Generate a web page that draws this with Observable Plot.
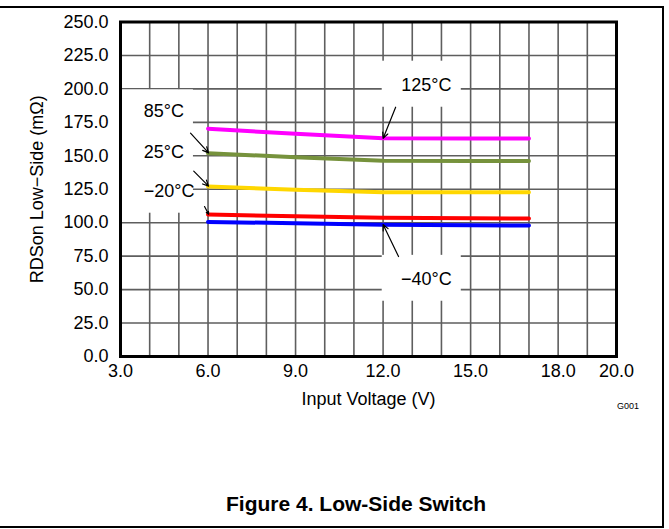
<!DOCTYPE html>
<html>
<head>
<meta charset="utf-8">
<script src="https://cdn.jsdelivr.net/npm/d3@7"></script>
<script src="https://cdn.jsdelivr.net/npm/@observablehq/plot@0.6"></script>
<style>
  html, body { margin: 0; padding: 0; background: #fff; }
  #wrap { position: relative; width: 669px; height: 529px; overflow: hidden; font-family: "Liberation Sans", Arial, sans-serif; }
  #outer { position: absolute; left: -4px; top: 6px; width: 668px; height: 522px; box-sizing: border-box; border-top: 2px solid #000; border-right: 2px solid #000; border-bottom: 2px solid #000; z-index: 5; pointer-events: none; }
  #chart { position: absolute; left: 0; top: 0; z-index: 1; }
  #gcode { position: absolute; left: 617px; top: 402px; font-size: 9px; line-height: 9px; white-space: nowrap; z-index: 2; }
  #caption { position: absolute; left: 226px; top: 493px; font-size: 21px; line-height: 21px; font-weight: bold; white-space: nowrap; z-index: 2; }
</style>
</head>
<body>
<div id="wrap">
  <div id="chart"></div>
  <div id="gcode">G001</div>
  <div id="caption">Figure 4. Low-Side Switch</div>
  <div id="outer"></div>
</div>
<script>
// ---- data ----
const voltage = [6, 9, 12, 15, 17];
const rds125 = [170.2, 166.4, 163.2, 163.0, 163.0];
const rds85  = [151.9, 149.0, 146.3, 146.2, 146.2];
const rds25  = [127.1, 124.6, 122.8, 122.7, 122.7];
const rdsM20 = [106.1, 104.9, 103.7, 103.3, 103.1];
const rdsM40 = [100.6, 99.6, 98.4, 98.1, 97.9];
const seriesNames  = ["125°C", "85°C", "25°C", "−20°C", "−40°C"];
const seriesColors = ["#ff00ff", "#76923c", "#ffd700", "#ff0000", "#0000ff"];
const xTickValues = [3, 6, 9, 12, 15, 18, 20];
const xGridValues = [3, 4, 5, 6, 7, 8, 9, 10, 11, 12, 13, 14, 15, 16, 17, 18, 19, 20];
const yTickValues = [0, 25, 50, 75, 100, 125, 150, 175, 200, 225, 250];

// annotation labels (data units)
const labelText = ["125°C", "−40°C", "85°C", "25°C", "−20°C"];
const labelX    = [13.48, 13.48, 3.80, 3.80, 3.80];
const labelY    = [198.3, 53.1, 178.8, 148.5, 119.1];
const labelAnchor = ["middle", "middle", "start", "start", "start"];
// white label boxes (data units)
const boxX1 = [11.97, 11.97, 3.0];
const boxX2 = [14.68, 14.68, 5.5];
const boxY1 = [186.3, 41.3, 107.1];
const boxY2 = [220.7, 75.6, 199.3];
// arrows (data units)
const arrX1 = [12.43, 12.53, 5.40, 5.51, 5.88];
const arrY1 = [186.3, 74.7, 166.9, 138.5, 112.1];
const arrX2 = [12.0, 12.0, 6.02, 6.02, 6.02];
const arrY2 = [163.0, 98.6, 152.2, 127.3, 106.3];

const seriesValues = [rds125, rds85, rds25, rdsM20, rdsM40];
const rows = [];
seriesNames.forEach((s, i) => voltage.forEach((v, j) => rows.push({s, v, r: seriesValues[i][j]})));
const labels = labelText.map((t, i) => ({t, x: labelX[i], y: labelY[i], a: labelAnchor[i]}));
const boxes = boxX1.map((_, i) => ({x1: boxX1[i], x2: boxX2[i], y1: boxY1[i], y2: boxY2[i]}));
const arrows = arrX1.map((_, i) => ({x1: arrX1[i], y1: arrY1[i], x2: arrX2[i], y2: arrY2[i]}));

const gridStyle = {stroke: "#5e5e5e", strokeOpacity: 1, strokeWidth: 1.6};
const fmt = d => d.toFixed(1);

const chart = Plot.plot({
  width: 669,
  height: 420,
  marginTop: 21.5,
  marginRight: 53,
  marginBottom: 64,
  marginLeft: 120,
  x: {domain: [3, 20]},
  y: {domain: [0, 250]},
  color: {domain: seriesNames, range: seriesColors},
  style: {fontFamily: "'Liberation Sans', Arial, sans-serif", fontSize: "18px", color: "black", background: "transparent"},
  marks: [
    Plot.gridX(xGridValues, gridStyle),
    Plot.gridY(yTickValues, gridStyle),
    Plot.rect(boxes, {x1: "x1", x2: "x2", y1: "y1", y2: "y2", fill: "white"}),
    Plot.line(rows, {x: "v", y: "r", z: "s", stroke: "s", strokeWidth: 4}),
    Plot.arrow(arrows, {x1: "x1", y1: "y1", x2: "x2", y2: "y2", stroke: "black", strokeWidth: 1.2, headLength: 8, headAngle: 50}),
    Plot.text(labels.filter(d => d.a === "middle"), {x: "x", y: "y", text: "t", textAnchor: "middle", lineAnchor: "bottom", fontSize: 18, fill: "black"}),
    Plot.text(labels.filter(d => d.a === "start"), {x: "x", y: "y", text: "t", textAnchor: "start", lineAnchor: "bottom", fontSize: 18, fill: "black"}),
    Plot.axisX(xTickValues, {tickSize: 0, tickPadding: 8, tickFormat: fmt, fontSize: 18,
      label: "Input Voltage (V)", labelAnchor: "center", labelArrow: "none", labelOffset: 48}),
    Plot.axisY(yTickValues, {tickSize: 0, tickPadding: 12, tickFormat: fmt, fontSize: 18,
      label: "RDSon Low−Side (mΩ)", labelAnchor: "center", labelArrow: "none", labelOffset: 90}),
    Plot.frame({stroke: "black", strokeWidth: 3})
  ]
});
document.getElementById("chart").appendChild(chart);
</script>
</body>
</html>
